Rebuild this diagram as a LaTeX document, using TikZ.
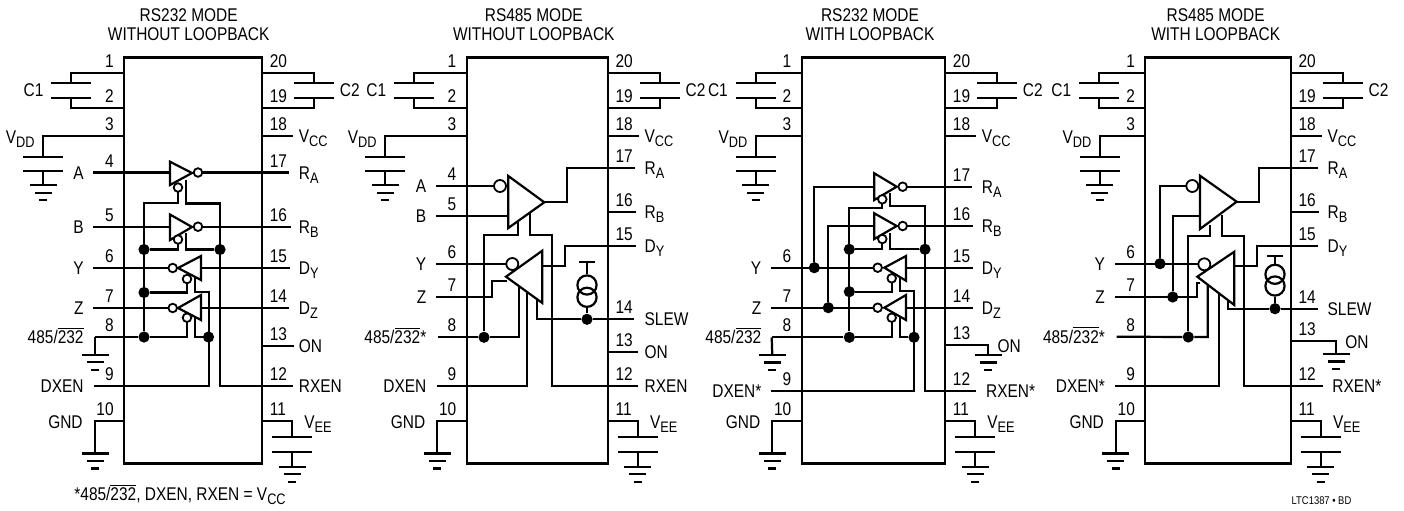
\documentclass[tikz,border=0pt]{standalone}
\usepackage{fontspec}
\setmainfont{Liberation Sans}[FakeStretch=0.84]
\usepackage{amsmath}
\newcommand{\sbs}[1]{\raisebox{-2pt}{\fontsize{7.6}{8}\selectfont #1}}
\newcommand{\ovl}[1]{$\overline{\mbox{#1}}$}
\def\modelbl{485/\ovl{232}}
\tikzset{
  wire/.style={line width=1.1pt},
  txt/.style={inner sep=0pt,font=\fontsize{9.2}{9.75}\selectfont},
  bub/.style={circle,draw,line width=0.9pt,fill=white,inner sep=0pt,minimum size=4.3pt},
  bigbub/.style={circle,draw,line width=0.9pt,fill=white,inner sep=0pt,minimum size=6pt},
  jdot/.style={circle,fill=black,inner sep=0pt,minimum size=5.6pt},
  isrc/.style={circle,draw,line width=1.1pt,inner sep=0pt,minimum size=9.6pt},
  earth/.pic={\draw[wire] (-13.5,0) -- (13.5,0) (-8.5,7.5) -- (8.5,7.5) (-4,15) -- (4,15);}
}
\newcommand{\leftpins}[2]{
  \foreach \Pin/\PinY/\PinEnd/\PinLabel in {#2}{
    \coordinate (#1\Pin) at (\PinEnd,\PinY);
    \node[txt,anchor=base east] (#1n\Pin) at (\chipL-10,\PinY-5.5) {\Pin};
    \ifx\PinLabel\empty\else
      \node[txt,anchor=base east] (#1l\Pin) at (\chipL-40,\PinY+6.5) {\PinLabel};
    \fi
  }
}
\newcommand{\rightpins}[2]{
  \foreach \Pin/\PinY/\PinEnd/\PinLabel in {#2}{
    \coordinate (#1\Pin) at (\PinEnd,\PinY);
    \node[txt,anchor=base west] (#1n\Pin) at (\chipR+7.5,\PinY-5.5) {\Pin};
    \ifx\PinLabel\empty\else
      \node[txt,anchor=base west] (#1l\Pin) at (\chipR+36.5,\PinY+6.5) {\PinLabel};
    \fi
  }
}
\newcommand{\chip}[8]{
  \def\chipL{#2}\def\chipR{#3}
  \node[txt,align=center] (#1title) at (#7,24.5) {#8};
  \draw[wire] (#2,57.5) rectangle (#3,463.5);
  \leftpins{#1}{1/73/#2/,2/108/#2/,3/136/#2/,10/421/#2/}
  \rightpins{#1}{20/73/#3/,19/108/#3/,18/136/#3+31/V\sbs{CC},11/421/#3/}
  \draw[wire] (#11) -| (#4,83.3) (#12) -| (#4,97.7);
  \draw[wire] (#4-20,83.3) -- (#4+20,83.3) (#4-20,97.7) -- (#4+20,97.7);
  \node[txt,anchor=base east] (#1cl) at (#4-27.5,96.5) {C1};
  \draw[wire] (#120) -| (#3+52,83.3) (#119) -| (#3+52,97.7);
  \draw[wire] (#3+32,83.3) -- (#3+72,83.3) (#3+32,97.7) -- (#3+72,97.7);
  \node[txt,anchor=base west] (#1cr) at (#3+77.5,96.5) {C2};
  \draw[wire] (#13) -| (#5,156.7);
  \draw[wire] (#5-20,156.7) -- (#5+20,156.7) (#5-20,171) -- (#5+20,171) (#5,171) -- (#5,185.3);
  \pic at (#5,185.3) {earth};
  \node[txt,anchor=base east] (#1vdd) at (#5-8,143) {V\sbs{DD}};
  \draw[wire] (#3,136) -- (#118);
  \draw[wire] (#110) -| (#6,453.5);
  \pic at (#6,453.5) {earth};
  \node[txt,anchor=base east] (#1gnd) at (#2-41,428) {GND};
  \draw[wire] (#111) -| (#3+30,437.3);
  \draw[wire] (#3+10,437.3) -- (#3+50,437.3) (#3+10,451.7) -- (#3+50,451.7) (#3+30,451.7) -- (#3+30,466.7);
  \pic at (#3+30,466.7) {earth};
  \node[txt,anchor=base west] (#1vee) at (#3+42,428) {V\sbs{EE}};
}
\begin{document}
\begin{tikzpicture}[x=0.5pt,y=-0.5pt]
  \useasboundingbox (0,0) rectangle (1404,510);

  \begin{scope}
    \chip{a}{124}{262}{71.3}{43}{95}{188.7}{RS232 MODE\\WITHOUT LOOPBACK}
    \leftpins{a}{4/172.5/93/A,5/226.7/93/B,6/268/93/Y,7/308/93/Z,8/337/95/\modelbl,9/386/94/DXEN}
    \rightpins{a}{17/172.5/289/R\sbs{A},16/226.7/291/R\sbs{B},15/268/290/D\sbs{Y},14/308/289/D\sbs{Z},13/345.7/294/ON,12/386/293/RXEN}
    \foreach \Name/\X/\Y in {aRAi/170/172.5,aRBi/170/226.7,aDYi/201/268,aDZi/201/308,aRAt/186/180,aRBt/186/233,aDYt/195/276,aDZt/195/314}
      \coordinate (\Name) at (\X,\Y);
    \foreach \Name/\X/\Y in {aRAo/198/172.5,aRAe/178/187.5,aRBo/198/226.7,aRBe/178/239.5,aDYo/172.7/268,aDYe/187/279,aDZo/172.7/308,aDZe/187/317.7}
      \coordinate (\Name) at (\X,\Y);
    \foreach \Name/\X/\Y in {aJa/144/249.5,aJb/144/292.5,aJc/144/337,aJd/220/249.5,aJe/208.5/337}
      \node[jdot] (\Name) at (\X,\Y) {};
    \draw[wire] (a4) -- (aRAi) (aRAo) -- (a17) (a5) -- (aRBi) (aRBo) -- (a16);
    \draw[wire] (a6) -- (aDYo) (a15) -- (aDYi) (a7) -- (aDZo) (a14) -- (aDZi);
    \draw[wire] (a8) -- (aJc) -| (aDZe);
    \draw[wire] (a8) -- (95,354.7);
    \pic at (95,354.7) {earth};
    \draw[wire] (aRAe) |- (144,203) -- (aJc);
    \draw[wire] (aRAt) |- (220,203.5) -- (220,386) -- (a12);
    \draw[wire] (aRBe) |- (aJa);
    \draw[wire] (aRBt) |- (aJd);
    \draw[wire] (aDYe) |- (aJb);
    \draw[wire] (aDYt) |- (209,291.7) -- (209,386) -- (a9);
    \draw[wire] (aDZt) |- (aJe);
    \draw[wire] (262,345.7) -- (a13);
    \draw[wire,fill=white] (170,161.7) -- (192,173) -- (170,185) -- cycle;
    \draw[wire,fill=white] (170,214.5) -- (192,227) -- (170,240) -- cycle;
    \draw[wire,fill=white] (201,256) -- (178,268) -- (201,280) -- cycle;
    \draw[wire,fill=white] (201,295) -- (178,308) -- (201,320) -- cycle;
    \foreach \Name in {aRAo,aRAe,aRBo,aRBe,aDYo,aDYe,aDZo,aDZe}
      \node[bub] at (\Name) {};
    \node[txt,anchor=base west] (note) at (74,500.5) {*\modelbl, DXEN, RXEN = V\sbs{CC}};
  \end{scope}

  \begin{scope}
    \chip{b}{466.7}{607.7}{414}{385}{437.3}{533.8}{RS485 MODE\\WITHOUT LOOPBACK}
    \leftpins{b}{4/186/436/A,5/215.7/436/B,6/264/436/Y,7/297.3/436/Z,8/337.3/438/\modelbl*,9/386/436.5/DXEN}
    \rightpins{b}{17/168/635/R\sbs{A},16/212/636/R\sbs{B},15/245.7/635.6/D\sbs{Y},14/319.3/634/SLEW,13/351.7/638/ON,12/386/638/RXEN}
    \foreach \Name/\X/\Y in {bRn/508.3/215.7,bRo/544.3/202.3,bRl/517.7/222,bRr/530/212,bDn/507/281,bDo/542.3/266,bDl/519/285,bDr/526.7/293,bDs/536.7/300,bT/587/261.7}
      \coordinate (\Name) at (\X,\Y);
    \node[jdot] (bJa) at (484,337.3) {};
    \node[jdot] (bJb) at (587,319.3) {};
    \node[isrc] (bIa) at (587,285) {};
    \node[isrc] (bIb) at (587,297.3) {};
    \draw[wire] (b4) -- (500,186) (b5) -- (bRn) (b6) -- (512,264);
    \draw[wire] (bRo) -- (566.7,202.3) |- (b17);
    \draw[wire] (bRl) |- (484,235) -- (bJa);
    \draw[wire] (bRr) |- (552.3,235) |- (b12);
    \draw[wire] (b7) -- (491.7,297.3) |- (bDn);
    \draw[wire] (bDo) -- (565,266) |- (b15);
    \draw[wire] (bDl) |- (bJa) -- (b8);
    \draw[wire] (bDr) |- (b9);
    \draw[wire] (bDs) |- (bJb) -- (b14);
    \draw[wire] (bT) -- (bIa) (bIb) -- (bJb);
    \draw[wire] (579.3,261.7) -- (595,261.7);
    \draw[wire] (607.7,212) -- (b16) (607.7,351.7) -- (b13);
    \draw[wire,fill=white] (508.3,176) -- (544.3,202.3) -- (508.3,228) -- cycle;
    \draw[wire,fill=white] (542.3,250.7) -- (506,276.7) -- (542.3,303) -- cycle;
    \node[bigbub] (bRi) at (500,186) {};
    \node[bigbub] (bDi) at (512.3,264) {};
  \end{scope}

  \begin{scope}
    \chip{c}{801.7}{945}{755.7}{755.7}{772.3}{870}{RS232 MODE\\WITH LOOPBACK}
    \leftpins{c}{6/267.7/770.7/Y,7/307.7/770.7/Z,8/337.3/771.7/\modelbl,9/391.3/771/DXEN*}
    \rightpins{c}{17/186.7/972/R\sbs{A},16/226/973/R\sbs{B},15/267.7/972.7/D\sbs{Y},14/307.7/972.7/D\sbs{Z},13/345/988/,12/391.3/976/}
    \node[txt,anchor=base west] (clon) at (997.3,352) {ON};
    \node[txt,anchor=base west] (clrx) at (985.7,397.8) {RXEN*};
    \foreach \Name/\X/\Y in {cRAi/874.3/186.7,cRBi/874.3/226,cDYi/906/267.7,cDZi/906/307.7,cRAt/890/193,cRBt/890/233,cDYt/900/276,cDZt/900/314,cRAo/902.7/186.7,cRAe/882.3/199.3,cRBo/902.7/226,cRBe/882.3/239,cDYo/877.7/267.7,cDYe/891.7/278.3,cDZo/877.7/307.7,cDZe/891.7/317.7}
      \coordinate (\Name) at (\X,\Y);
    \foreach \Name/\X/\Y in {cJa/814.3/267.7,cJb/828.3/307.7,cJc/849.3/249.3,cJd/849.3/291.7,cJe/849.3/337.3,cJf/925/249.3,cJg/914/337.3}
      \node[jdot] (\Name) at (\X,\Y) {};
    \draw[wire] (c6) -- (cDYo) (c7) -- (cDZo);
    \draw[wire] (cRAi) -| (cJa) (cRBi) -| (cJb);
    \draw[wire] (cRAo) -- (c17) (cRBo) -- (c16);
    \draw[wire] (c15) -- (cDYi) (c14) -- (cDZi);
    \draw[wire] (cRAe) |- (849.3,208.3) -- (cJe);
    \draw[wire] (cRAt) |- (925,206) -- (925,391.3) -- (c12);
    \draw[wire] (cRBe) |- (cJc);
    \draw[wire] (cRBt) |- (cJf);
    \draw[wire] (cDYe) |- (cJd);
    \draw[wire] (cDYt) |- (914,291.3) -- (914,391.3) -- (c9);
    \draw[wire] (cDZe) |- (cJe) -- (c8);
    \draw[wire] (cDZt) |- (cJg);
    \draw[wire] (c8) -- (772.3,355);
    \pic at (772.3,355) {earth};
    \draw[wire] (945,345) -- (c13) -- (988,355);
    \pic at (988,355) {earth};
    \draw[wire,fill=white] (874.3,173.3) -- (896.7,186.7) -- (874.3,200) -- cycle;
    \draw[wire,fill=white] (874.3,213.3) -- (896.7,226) -- (874.3,239) -- cycle;
    \draw[wire,fill=white] (906,256) -- (884.3,267.7) -- (906,280.7) -- cycle;
    \draw[wire,fill=white] (906,295) -- (884.3,307.7) -- (906,320) -- cycle;
    \foreach \Name in {cRAo,cRAe,cRBo,cRBe,cDYo,cDYe,cDZo,cDZe}
      \node[bub] at (\Name) {};
  \end{scope}

  \begin{scope}
    \chip{d}{1145.3}{1290.7}{1099}{1099.7}{1115.7}{1215.7}{RS485 MODE\\WITH LOOPBACK}
    \leftpins{d}{6/263.7/1115/Y,7/297/1115/Z,8/336.7/1116.7/\modelbl*,9/386/1115/DXEN*}
    \rightpins{d}{17/168/1317.7/R\sbs{A},16/211.7/1319/R\sbs{B},15/245.7/1318/D\sbs{Y},14/308.7/1317.7/SLEW,13/341/1336/,12/386/1322.7/}
    \node[txt,anchor=base west] (dlon) at (1345,348) {ON};
    \node[txt,anchor=base west] (dlrx) at (1332,392.5) {RXEN*};
    \foreach \Name/\X/\Y in {dRn/1200/216,dRo/1236.7/201.7,dRl/1210/225,dRr/1222.3/215,dDn/1200/282.7,dDo/1234.3/266,dDl/1207.7/285,dDr/1219/294,dDs/1228.3/300,dT/1275/256}
      \coordinate (\Name) at (\X,\Y);
    \foreach \Name/\X/\Y in {dJa/1160/263.7,dJb/1172.7/297,dJc/1188.3/337,dJd/1275/308.7}
      \node[jdot] (\Name) at (\X,\Y) {};
    \node[isrc] (dIa) at (1275,274.3) {};
    \node[isrc] (dIb) at (1275,286) {};
    \draw[wire] (1192,186) -| (dJa) (dRn) -| (dJb);
    \draw[wire] (d6) -- (1204,263.7) (d7) -- (1196.7,297) |- (dDn);
    \draw[wire] (dRo) -- (1259,201.7) |- (d17);
    \draw[wire] (dRl) |- (1188.3,235.7) -- (dJc);
    \draw[wire] (dRr) |- (1244.3,235.7) |- (d12);
    \draw[wire] (dDo) -- (1257.3,266) |- (d15);
    \draw[wire] (dDl) |- (dJc) -- (d8);
    \draw[wire] (dDr) |- (d9);
    \draw[wire] (dDs) |- (dJd) -- (d14);
    \draw[wire] (dT) -- (dIa) (dIb) -- (dJd);
    \draw[wire] (1267.3,256) -- (1282.7,256);
    \draw[wire] (1290.7,211.7) -- (d16);
    \draw[wire] (1290.7,341) -- (d13) -- (1336,354);
    \pic at (1336,354) {earth};
    \draw[wire,fill=white] (1200,175.7) -- (1236.7,201.7) -- (1200,229) -- cycle;
    \draw[wire,fill=white] (1234.3,251.7) -- (1197.3,276.7) -- (1234.3,305) -- cycle;
    \node[bigbub] (dRi) at (1192.3,186) {};
    \node[bigbub] (dDi) at (1204.3,264.3) {};
    \node[inner sep=0pt,font=\fontsize{5.6}{6}\selectfont] (code) at (1321.5,501) {LTC1387 • BD};
  \end{scope}
\end{tikzpicture}
\end{document}
